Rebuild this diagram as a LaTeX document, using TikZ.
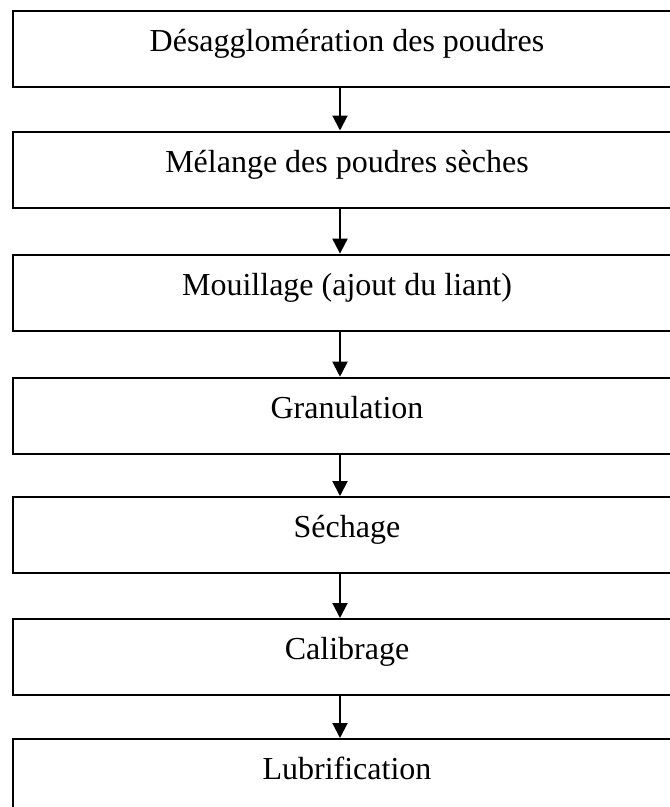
\documentclass[tikz,border=0pt]{standalone}
\usepackage{fontspec}
\setmainfont{Liberation Serif}
\usetikzlibrary{arrows.meta}
\begin{document}
\begin{tikzpicture}[x=1pt,y=-1pt,
  stepbox/.style={draw, line width=2pt, minimum width=668pt, minimum height=76pt,
    anchor=north west, inner sep=0pt, text height=22pt, text depth=17pt,
    font=\fontsize{32}{38}\selectfont},
  flow/.style={draw, line width=2pt, -{Triangle[length=15pt,width=15pt]}}]
\useasboundingbox (0,0) rectangle (670,807);
\clip (0,0) rectangle (670,807);
\node[stepbox] (s1) at (12,10.0)  {Désagglomération des poudres};
\node[stepbox] (s2) at (12,130.5) {Mélange des poudres sèches};
\node[stepbox] (s3) at (12,253.6) {Mouillage (ajout du liant)};
\node[stepbox] (s4) at (12,376.7) {Granulation};
\node[stepbox] (s5) at (12,496.0) {Séchage};
\node[stepbox] (s6) at (12,618.0) {Calibrage};
\node[stepbox] (s7) at (12,738.0) {Lubrification};
\foreach \a/\b in {s1/s2,s2/s3,s3/s4,s4/s5,s5/s6,s6/s7}
  \draw[flow] ([xshift=-7pt]\a.south) -- ([xshift=-7pt]\b.north);
\end{tikzpicture}
\end{document}
